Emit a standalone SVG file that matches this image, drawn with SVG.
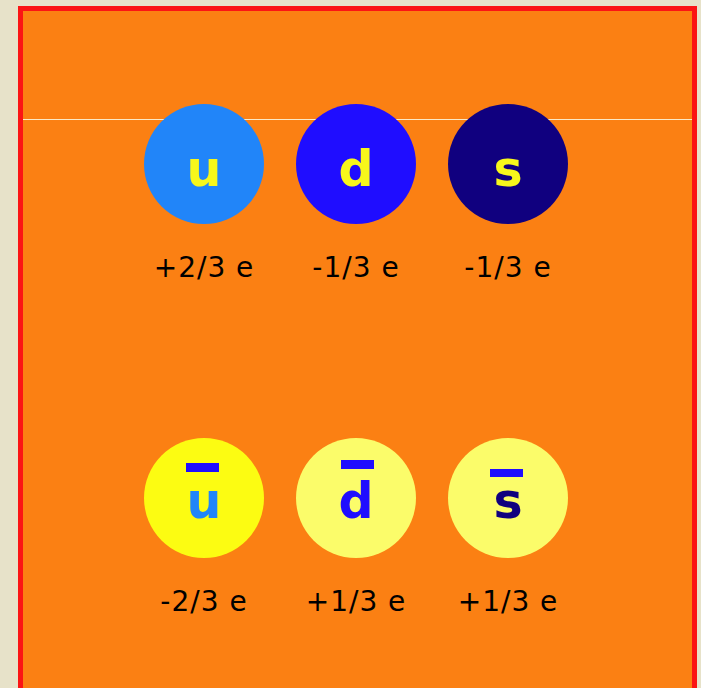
<svg xmlns="http://www.w3.org/2000/svg" width="701" height="688" viewBox="0 0 701 688">
<style>
.lbl{font-family:"DejaVu Sans",Verdana,sans-serif;font-size:28px;fill:#000;text-anchor:middle;letter-spacing:1px}
.q{font-family:"DejaVu Sans",Verdana,sans-serif;font-weight:bold;font-size:49px;text-anchor:middle}
.bar{fill:#1f0dff}
</style>
<rect x="0" y="0" width="701" height="688" fill="#e7e2c9"/>
<rect x="20.5" y="8.5" width="674" height="700" fill="#fb8013" stroke="#fb1414" stroke-width="5"/>
<line x1="23" y1="119.5" x2="692" y2="119.5" stroke="#fbe9c6" stroke-width="1"/>
<g id="quark-u">
<circle cx="204" cy="164" r="60" fill="#2185f9"/>
<text class="q" x="204" y="186" fill="#f7f71b">u</text>
<text class="lbl" x="204" y="277">+2/3 e</text>
</g>
<g id="quark-d">
<circle cx="356" cy="164" r="60" fill="#1f0dff"/>
<text class="q" x="356" y="186" fill="#f7f71b">d</text>
<text class="lbl" x="356" y="277">-1/3 e</text>
</g>
<g id="quark-s">
<circle cx="508" cy="164" r="60" fill="#10007f"/>
<text class="q" x="508" y="186" fill="#f7f71b">s</text>
<text class="lbl" x="508" y="277">-1/3 e</text>
</g>
<g id="antiquark-u">
<circle cx="204" cy="498" r="60" fill="#fcfc12"/>
<rect class="bar" x="186" y="463" width="33" height="9"/>
<text class="q" x="204" y="518" fill="#2185f9">u</text>
<text class="lbl" x="204" y="611">-2/3 e</text>
</g>
<g id="antiquark-d">
<circle cx="356" cy="498" r="60" fill="#fbfc6a"/>
<rect class="bar" x="341" y="460" width="33" height="9"/>
<text class="q" x="356" y="518" fill="#1f0dff">d</text>
<text class="lbl" x="356" y="611">+1/3 e</text>
</g>
<g id="antiquark-s">
<circle cx="508" cy="498" r="60" fill="#fbfc6a"/>
<rect class="bar" x="490" y="469" width="33" height="8"/>
<text class="q" x="508" y="518" fill="#10007f">s</text>
<text class="lbl" x="508" y="611">+1/3 e</text>
</g>
</svg>
